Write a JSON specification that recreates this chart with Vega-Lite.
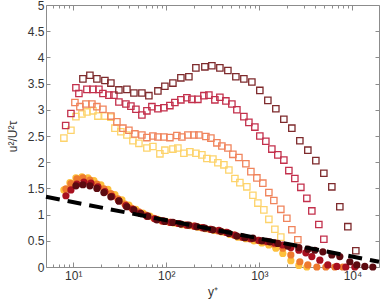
{
"$schema": "https://vega.github.io/schema/vega-lite/v6.json",
"width": 333, "height": 262,
"autosize": {"type": "none"},
"padding": {"left": 46, "top": 5, "right": 3, "bottom": 39},
"background": "white",
"config": {"view": {"stroke": null}, "axis": {"labelFont": "Liberation Sans", "titleFont": "Liberation Sans", "labelFontSize": 12, "labelColor": "#333333", "domainColor": "#8c8c8c", "tickColor": "#8c8c8c", "grid": false, "titleFontWeight": "normal", "titleColor": "#333333", "titleFontSize": 12}},
"datasets": {
"squares": [
{"s":"A","x":7.94,"v":2.46},{"s":"A","x":9.45,"v":2.61},{"s":"A","x":10.69,"v":2.87},{"s":"A","x":12.4,"v":2.92},{"s":"A","x":14.03,"v":2.96},{"s":"A","x":16.28,"v":2.98},{"s":"A","x":18.42,"v":2.88},{"s":"A","x":21.9,"v":2.88},{"s":"A","x":25.4,"v":2.86},{"s":"A","x":28.05,"v":2.65},{"s":"A","x":32.5,"v":2.58},{"s":"A","x":37.75,"v":2.52},{"s":"A","x":43.8,"v":2.41},{"s":"A","x":50.8,"v":2.36},{"s":"A","x":61.9,"v":2.27},{"s":"A","x":71.8,"v":2.3},{"s":"A","x":85.4,"v":2.16},{"s":"A","x":96.6,"v":2.23},{"s":"A","x":117.8,"v":2.25},{"s":"A","x":133.2,"v":2.27},{"s":"A","x":154.6,"v":2.17},{"s":"A","x":179.3,"v":2.2},{"s":"A","x":208,"v":2.17},{"s":"A","x":241.3,"v":2.14},{"s":"A","x":273,"v":2.07},{"s":"A","x":317,"v":2.06},{"s":"A","x":358.4,"v":1.99},{"s":"A","x":415.8,"v":1.95},{"s":"A","x":470.6,"v":1.85},{"s":"A","x":546,"v":1.69},{"s":"A","x":617.6,"v":1.61},{"s":"A","x":734,"v":1.53},{"s":"A","x":852,"v":1.37},{"s":"A","x":964,"v":1.22},{"s":"A","x":1117.6,"v":1.09},{"s":"A","x":1265,"v":0.91},{"s":"A","x":1468,"v":0.72},{"s":"A","x":1701,"v":0.57},
{"s":"B","x":10.43,"v":3.14},{"s":"B","x":11.8,"v":3.06},{"s":"B","x":13.69,"v":3.11},{"s":"B","x":15.88,"v":3.11},{"s":"B","x":17.97,"v":3.06},{"s":"B","x":20.85,"v":3.01},{"s":"B","x":25.4,"v":2.88},{"s":"B","x":29.48,"v":2.77},{"s":"B","x":34.19,"v":2.65},{"s":"B","x":39.66,"v":2.61},{"s":"B","x":46.0,"v":2.54},{"s":"B","x":54.7,"v":2.52},{"s":"B","x":61.9,"v":2.47},{"s":"B","x":71.8,"v":2.5},{"s":"B","x":81.27,"v":2.48},{"s":"B","x":94.24,"v":2.48},{"s":"B","x":109.3,"v":2.47},{"s":"B","x":130.0,"v":2.51},{"s":"B","x":147.1,"v":2.48},{"s":"B","x":170.6,"v":2.52},{"s":"B","x":198,"v":2.52},{"s":"B","x":223.9,"v":2.52},{"s":"B","x":266.4,"v":2.49},{"s":"B","x":301.5,"v":2.46},{"s":"B","x":349.7,"v":2.37},{"s":"B","x":395.7,"v":2.31},{"s":"B","x":459,"v":2.27},{"s":"B","x":519.5,"v":2.15},{"s":"B","x":602.6,"v":2.09},{"s":"B","x":716.5,"v":1.97},{"s":"B","x":810.9,"v":1.82},{"s":"B","x":940.4,"v":1.7},{"s":"B","x":1090,"v":1.6},{"s":"B","x":1265,"v":1.42},{"s":"B","x":1431,"v":1.27},{"s":"B","x":1701,"v":1.1},{"s":"B","x":1974,"v":0.93},{"s":"B","x":2234,"v":0.71},{"s":"B","x":2591,"v":0.52},
{"s":"C","x":8.3,"v":2.7},{"s":"C","x":9.45,"v":2.93},{"s":"C","x":10.69,"v":3.42},{"s":"C","x":11.51,"v":3.31},{"s":"C","x":14.03,"v":3.39},{"s":"C","x":16.28,"v":3.39},{"s":"C","x":18.88,"v":3.39},{"s":"C","x":20.85,"v":3.31},{"s":"C","x":24.18,"v":3.28},{"s":"C","x":27.37,"v":3.28},{"s":"C","x":30.97,"v":3.15},{"s":"C","x":36.83,"v":3.11},{"s":"C","x":41.67,"v":3.07},{"s":"C","x":47.16,"v":3.01},{"s":"C","x":54.7,"v":2.9},{"s":"C","x":61.9,"v":2.98},{"s":"C","x":70.05,"v":3.06},{"s":"C","x":81.27,"v":3.02},{"s":"C","x":94.24,"v":3.04},{"s":"C","x":109.3,"v":3.08},{"s":"C","x":123.7,"v":3.14},{"s":"C","x":143.5,"v":3.19},{"s":"C","x":166.5,"v":3.23},{"s":"C","x":188.4,"v":3.2},{"s":"C","x":218.5,"v":3.2},{"s":"C","x":253.5,"v":3.27},{"s":"C","x":286.9,"v":3.28},{"s":"C","x":332.8,"v":3.19},{"s":"C","x":376.6,"v":3.24},{"s":"C","x":436.9,"v":3.17},{"s":"C","x":506.8,"v":3.11},{"s":"C","x":573.5,"v":3.0},{"s":"C","x":681.9,"v":2.87},{"s":"C","x":771.7,"v":2.76},{"s":"C","x":895,"v":2.67},{"s":"C","x":1012,"v":2.5},{"s":"C","x":1174,"v":2.4},{"s":"C","x":1362,"v":2.25},{"s":"C","x":1580,"v":2.14},{"s":"C","x":1833,"v":2.04},{"s":"C","x":2075,"v":1.84},{"s":"C","x":2407,"v":1.69},{"s":"C","x":2791,"v":1.52},{"s":"C","x":3238,"v":1.31},{"s":"C","x":3664,"v":1.07},{"s":"C","x":4356,"v":0.81},{"s":"C","x":4931,"v":0.53},
{"s":"D","x":12.71,"v":3.59},{"s":"D","x":15.11,"v":3.66},{"s":"D","x":17.97,"v":3.59},{"s":"D","x":21.9,"v":3.56},{"s":"D","x":25.4,"v":3.51},{"s":"D","x":30.97,"v":3.38},{"s":"D","x":37.75,"v":3.39},{"s":"D","x":44.88,"v":3.32},{"s":"D","x":54.7,"v":3.32},{"s":"D","x":65.0,"v":3.27},{"s":"D","x":81.27,"v":3.36},{"s":"D","x":96.6,"v":3.45},{"s":"D","x":117.8,"v":3.51},{"s":"D","x":143.5,"v":3.61},{"s":"D","x":174.9,"v":3.63},{"s":"D","x":208,"v":3.8},{"s":"D","x":259.8,"v":3.82},{"s":"D","x":309,"v":3.84},{"s":"D","x":376.6,"v":3.8},{"s":"D","x":459,"v":3.75},{"s":"D","x":559.5,"v":3.63},{"s":"D","x":681.9,"v":3.59},{"s":"D","x":831,"v":3.53},{"s":"D","x":1012,"v":3.37},{"s":"D","x":1234,"v":3.18},{"s":"D","x":1504,"v":3.02},{"s":"D","x":1833,"v":2.82},{"s":"D","x":2234,"v":2.65},{"s":"D","x":2723,"v":2.41},{"s":"D","x":3319,"v":2.23},{"s":"D","x":4046,"v":2.03},{"s":"D","x":4931,"v":1.79},{"s":"D","x":6009,"v":1.53},{"s":"D","x":7322,"v":1.15},{"s":"D","x":8925,"v":0.77},{"s":"D","x":10877,"v":0.31}
],
"circles": [
{"s":"A","x":7.94,"v":1.47},{"s":"A","x":9.22,"v":1.61},{"s":"A","x":10.69,"v":1.7},{"s":"A","x":12.4,"v":1.72},{"s":"A","x":14.39,"v":1.7},{"s":"A","x":16.69,"v":1.65},{"s":"A","x":19.84,"v":1.57},{"s":"A","x":23.59,"v":1.48},{"s":"A","x":28.05,"v":1.38},{"s":"A","x":33.36,"v":1.28},{"s":"A","x":39.66,"v":1.18},{"s":"A","x":47.16,"v":1.1},{"s":"A","x":56.07,"v":1.03},{"s":"A","x":66.68,"v":0.97},{"s":"A","x":81.27,"v":0.91},{"s":"A","x":99.0,"v":0.87},{"s":"A","x":120.7,"v":0.84},{"s":"A","x":147.1,"v":0.81},{"s":"A","x":179.3,"v":0.79},{"s":"A","x":218.5,"v":0.76},{"s":"A","x":266.4,"v":0.73},{"s":"A","x":324.7,"v":0.7},{"s":"A","x":395.7,"v":0.67},{"s":"A","x":482.3,"v":0.62},{"s":"A","x":587.9,"v":0.57},{"s":"A","x":716.5,"v":0.54},{"s":"A","x":873.2,"v":0.5},{"s":"A","x":1063.6,"v":0.46},{"s":"A","x":1265,"v":0.42},{"s":"A","x":1504,"v":0.36},{"s":"A","x":1787,"v":0.26},{"s":"A","x":2180,"v":0.12},{"s":"A","x":2656,"v":0.03},{"s":"A","x":3238,"v":0.0},
{"s":"B","x":8.35,"v":1.49},{"s":"B","x":9.45,"v":1.59},{"s":"B","x":10.96,"v":1.68},{"s":"B","x":12.71,"v":1.7},{"s":"B","x":15.11,"v":1.66},{"s":"B","x":17.97,"v":1.58},{"s":"B","x":21.37,"v":1.49},{"s":"B","x":25.4,"v":1.4},{"s":"B","x":30.21,"v":1.3},{"s":"B","x":35.93,"v":1.2},{"s":"B","x":42.72,"v":1.12},{"s":"B","x":50.8,"v":1.05},{"s":"B","x":60.39,"v":0.99},{"s":"B","x":73.61,"v":0.93},{"s":"B","x":89.72,"v":0.88},{"s":"B","x":109.3,"v":0.85},{"s":"B","x":133.2,"v":0.83},{"s":"B","x":162.4,"v":0.8},{"s":"B","x":198,"v":0.78},{"s":"B","x":241.3,"v":0.75},{"s":"B","x":294.1,"v":0.72},{"s":"B","x":358.4,"v":0.69},{"s":"B","x":436.9,"v":0.66},{"s":"B","x":532.5,"v":0.61},{"s":"B","x":649,"v":0.57},{"s":"B","x":791.1,"v":0.54},{"s":"B","x":964,"v":0.51},{"s":"B","x":1174,"v":0.48},{"s":"B","x":1431,"v":0.44},{"s":"B","x":1787,"v":0.36},{"s":"B","x":2180,"v":0.23},{"s":"B","x":2723,"v":0.1},{"s":"B","x":3319,"v":0.04},{"s":"B","x":4147,"v":0.0},{"s":"B","x":5181,"v":0.0},{"s":"B","x":6472,"v":0.0},{"s":"B","x":7886,"v":0.0},
{"s":"C","x":8.35,"v":1.36},{"s":"C","x":9.45,"v":1.47},{"s":"C","x":10.96,"v":1.58},{"s":"C","x":13.03,"v":1.62},{"s":"C","x":15.49,"v":1.6},{"s":"C","x":18.42,"v":1.53},{"s":"C","x":21.9,"v":1.44},{"s":"C","x":26.05,"v":1.35},{"s":"C","x":30.97,"v":1.26},{"s":"C","x":36.83,"v":1.17},{"s":"C","x":43.79,"v":1.1},{"s":"C","x":52.05,"v":1.03},{"s":"C","x":61.9,"v":0.97},{"s":"C","x":75.4,"v":0.92},{"s":"C","x":92.0,"v":0.88},{"s":"C","x":112.0,"v":0.85},{"s":"C","x":136.5,"v":0.83},{"s":"C","x":166.5,"v":0.8},{"s":"C","x":203,"v":0.78},{"s":"C","x":247.3,"v":0.75},{"s":"C","x":301.5,"v":0.72},{"s":"C","x":367.4,"v":0.7},{"s":"C","x":447.8,"v":0.66},{"s":"C","x":545.8,"v":0.61},{"s":"C","x":665.2,"v":0.57},{"s":"C","x":810.9,"v":0.54},{"s":"C","x":988,"v":0.51},{"s":"C","x":1204,"v":0.49},{"s":"C","x":1467,"v":0.46},{"s":"C","x":1787,"v":0.42},{"s":"C","x":2180,"v":0.37},{"s":"C","x":2656,"v":0.32},{"s":"C","x":3159,"v":0.27},{"s":"C","x":3664,"v":0.2},{"s":"C","x":4466,"v":0.13},{"s":"C","x":5444,"v":0.04},{"s":"C","x":6800,"v":0.01},{"s":"C","x":8494,"v":0.0},{"s":"C","x":10610,"v":0.0},
{"s":"D","x":10.69,"v":1.55},{"s":"D","x":12.71,"v":1.57},{"s":"D","x":15.11,"v":1.55},{"s":"D","x":17.97,"v":1.5},{"s":"D","x":21.37,"v":1.42},{"s":"D","x":25.4,"v":1.34},{"s":"D","x":30.97,"v":1.26},{"s":"D","x":37.75,"v":1.15},{"s":"D","x":44.88,"v":1.09},{"s":"D","x":53.35,"v":1.02},{"s":"D","x":63.45,"v":0.97},{"s":"D","x":79.3,"v":0.9},{"s":"D","x":96.6,"v":0.87},{"s":"D","x":117.8,"v":0.85},{"s":"D","x":143.5,"v":0.82},{"s":"D","x":174.9,"v":0.8},{"s":"D","x":213.2,"v":0.77},{"s":"D","x":259.8,"v":0.74},{"s":"D","x":316.7,"v":0.71},{"s":"D","x":386,"v":0.68},{"s":"D","x":470.6,"v":0.64},{"s":"D","x":573.5,"v":0.59},{"s":"D","x":699,"v":0.56},{"s":"D","x":852,"v":0.55},{"s":"D","x":1064,"v":0.5},{"s":"D","x":1297,"v":0.48},{"s":"D","x":1580,"v":0.45},{"s":"D","x":2024,"v":0.4},{"s":"D","x":2656,"v":0.37},{"s":"D","x":3319,"v":0.34},{"s":"D","x":3946,"v":0.32},{"s":"D","x":4810,"v":0.29},{"s":"D","x":6009,"v":0.23},{"s":"D","x":7322,"v":0.2},{"s":"D","x":9378,"v":0.1},{"s":"D","x":11150,"v":0.04},{"s":"D","x":13590,"v":0.01},{"s":"D","x":16560,"v":0.0}
],
"fit": [{"x":5.1,"v":1.34},{"x":19300,"v":0.1}]
},
"layer": [
{"data": {"name": "squares"},
 "mark": {"type": "point", "shape": "square", "filled": false, "size": 40, "strokeWidth": 1.3, "opacity": 1},
 "encoding": {
  "x": {"field": "x", "type": "quantitative", "scale": {"type": "log", "domain": [5.1, 19300], "nice": false},
   "axis": {"orient": "bottom", "title": "y⁺", "titlePadding": 3,
    "values": [6,7,8,9,10,20,30,40,50,60,70,80,90,100,200,300,400,500,600,700,800,900,1000,2000,3000,4000,5000,6000,7000,8000,9000,10000],
    "labelExpr": "datum.value==10?'10¹':datum.value==100?'10²':datum.value==1000?'10³':datum.value==10000?'10⁴':''",
    "labelOverlap": false, "labelFlush": false, "labelPadding": 8,
    "tickSize": {"condition": {"test": "datum.value==10||datum.value==100||datum.value==1000||datum.value==10000", "value": -5}, "value": -3}}},
  "y": {"field": "v", "type": "quantitative", "scale": {"domain": [0, 5], "nice": false},
   "axis": {"orient": "left", "title": "u²/U²τ", "values": [0,0.5,1,1.5,2,2.5,3,3.5,4,4.5,5], "format": "~g", "tickSize": -4, "labelPadding": 6, "titlePadding": 8}},
  "color": {"field": "s", "type": "nominal", "scale": {"domain": ["A","B","C","D"], "range": ["#fdd36b","#f0845c","#c3304c","#7e2a2c"]}, "legend": null}
 }},
{"data": {"name": "circles"},
 "mark": {"type": "circle", "size": 52, "opacity": 1},
 "encoding": {
  "x": {"field": "x", "type": "quantitative", "scale": {"type": "log", "domain": [5.1, 19300], "nice": false},
   "axis": {"orient": "top", "title": null, "labels": false,
    "values": [6,7,8,9,10,20,30,40,50,60,70,80,90,100,200,300,400,500,600,700,800,900,1000,2000,3000,4000,5000,6000,7000,8000,9000,10000],
    "tickSize": {"condition": {"test": "datum.value==10||datum.value==100||datum.value==1000||datum.value==10000", "value": -5}, "value": -3}}},
  "y": {"field": "v", "type": "quantitative", "scale": {"domain": [0, 5], "nice": false},
   "axis": {"orient": "right", "title": null, "labels": false, "values": [0,0.5,1,1.5,2,2.5,3,3.5,4,4.5,5], "tickSize": -4}},
  "color": {"field": "s", "type": "nominal", "scale": {"domain": ["A","B","C","D"], "range": ["#fdbf3c","#ee7a2e","#a8101f","#5c0a10"]}, "legend": null}
 }},
{"data": {"name": "fit"},
 "mark": {"type": "line", "color": "black", "strokeWidth": 4, "strokeDash": [14, 8]},
 "encoding": {
  "x": {"field": "x", "type": "quantitative", "scale": {"type": "log", "domain": [5.1, 19300], "nice": false}, "axis": null},
  "y": {"field": "v", "type": "quantitative", "scale": {"domain": [0, 5], "nice": false}, "axis": null}
 }}
],
"resolve": {"scale": {"color": "independent"}, "axis": {"x": "independent", "y": "independent"}}
}
